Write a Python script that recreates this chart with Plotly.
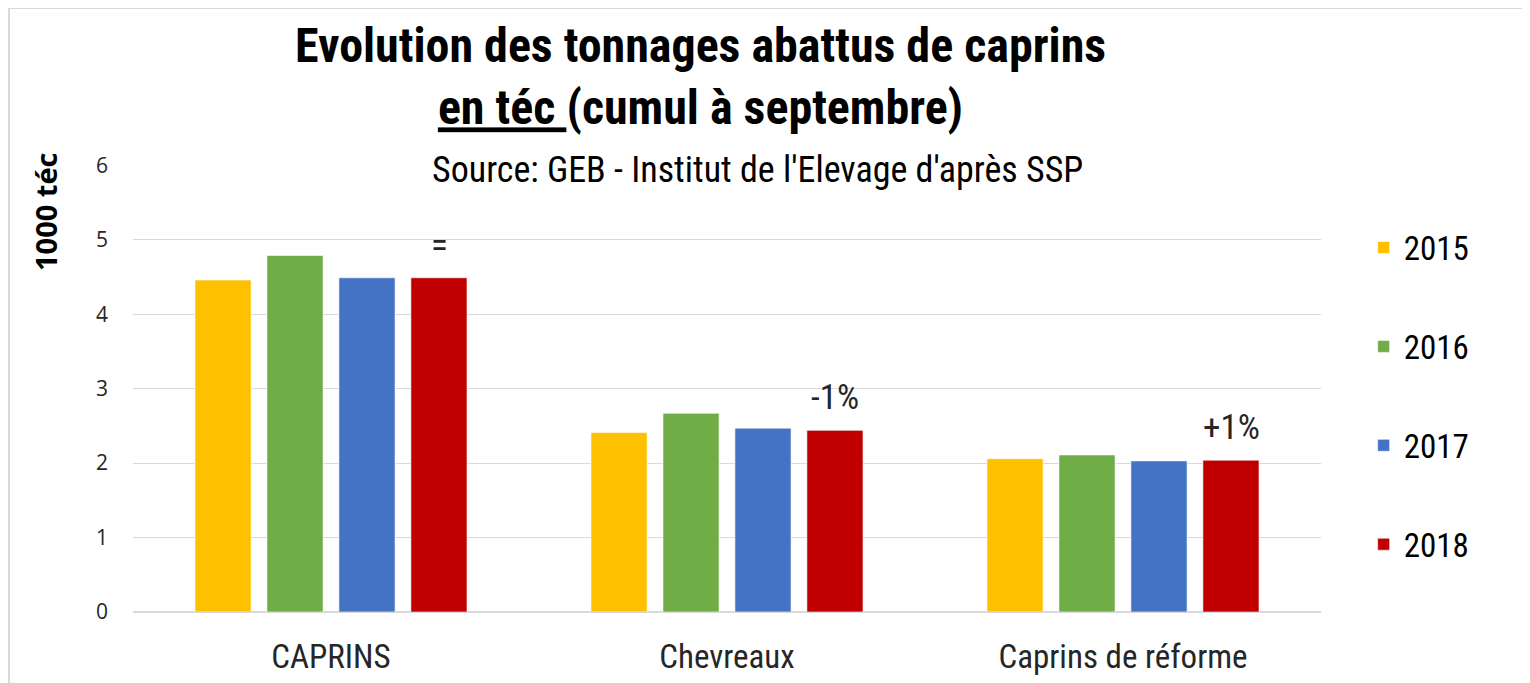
import plotly.graph_objects as go

categories = ["CAPRINS", "Chevreaux", "Caprins de réforme"]
years = ["2015", "2016", "2017", "2018"]
values_2015 = [4.46, 2.41, 2.06]
values_2016 = [4.79, 2.67, 2.11]
values_2017 = [4.49, 2.47, 2.03]
values_2018 = [4.49, 2.44, 2.04]
labels_2018 = ["=", "-1%", "+1%"]
colors = ["#FFC000", "#70AD47", "#4472C4", "#C00000"]
y_ticks = [0, 1, 2, 3, 4, 5, 6]

NARROW = "Roboto Condensed, DejaVu Sans Condensed, sans-serif"

series = [values_2015, values_2016, values_2017, values_2018]
fig = go.Figure()
for i, (yr, vals) in enumerate(zip(years, series)):
    fig.add_trace(go.Bar(
        x=categories, y=vals, name=yr,
        marker=dict(color=colors[i], line=dict(color="rgba(255,255,255,0.6)", width=1)),
        legendgroup=yr, hoverinfo="skip",
    ))

# percentage labels above 2018 bars
for cat, val, lab in zip(categories, values_2018, labels_2018):
    fig.add_annotation(x=cat, y=val, text=lab, showarrow=False,
                       xshift=108, yshift=10, yanchor="bottom",
                       font=dict(family=NARROW, size=35, color="#262626"))

fig.update_layout(
    width=1522, height=675,
    paper_bgcolor="white", plot_bgcolor="white",
    margin=dict(l=125, r=209, t=157, b=71),
    barmode="group", bargap=0.273, bargroupgap=0.22,
    xaxis=dict(
        showgrid=False, showline=False, ticks="", automargin=False,
        tickfont=dict(family=NARROW, size=33, color="#262626"),
        ticklabelstandoff=22,
    ),
    yaxis=dict(
        range=[0, 6.005], tickvals=y_ticks, showgrid=True, gridcolor="#d9d9d9", gridwidth=1,
        zeroline=True, zerolinecolor="#d9d9d9", showline=False, ticks="", automargin=False,
        tickfont=dict(family="Open Sans, Liberation Sans, sans-serif", size=21, color="#262626"),
        ticklabelstandoff=24,
    ),
    legend=dict(
        x=1.0359, xanchor="left", y=0.878, yanchor="top",
        font=dict(family=NARROW, size=33, color="black"),
        tracegroupgap=53, itemwidth=30, bgcolor="rgba(0,0,0,0)",
    ),
    showlegend=True,
)

# title (two lines)
fig.add_annotation(xref="paper", yref="paper", x=(700 - 133) / 1188, y=(612 - 76) / 447,
                   xanchor="center", yanchor="middle", showarrow=False,
                   text="<b>Evolution des tonnages abattus de caprins<br><u>en téc </u>(cumul à septembre)</b>",
                   font=dict(family=NARROW, size=48, color="black"))
fig.add_annotation(xref="paper", yref="paper", x=(757 - 133) / 1188, y=(612 - 170) / 447,
                   xanchor="center", yanchor="middle",
                   text="Source: GEB - Institut de l'Elevage d'après SSP", showarrow=False,
                   font=dict(family=NARROW, size=36, color="black"))
fig.add_annotation(xref="paper", yref="paper", x=(45 - 133) / 1188, y=(612 - 212) / 447,
                   xanchor="center", yanchor="middle",
                   text="<b>1000 téc</b>", textangle=-90, showarrow=False,
                   font=dict(family="Open Sans, Liberation Sans, sans-serif", size=29, color="black"))

# chart frame
fig.add_shape(type="rect", xref="paper", yref="paper",
              x0=-124 / 1188, x1=1.2, y0=-0.3, y1=1 + 157 / 447,
              line=dict(color="#d9d9d9", width=2), fillcolor="rgba(0,0,0,0)", layer="below")

fig.write_html("out.html")
